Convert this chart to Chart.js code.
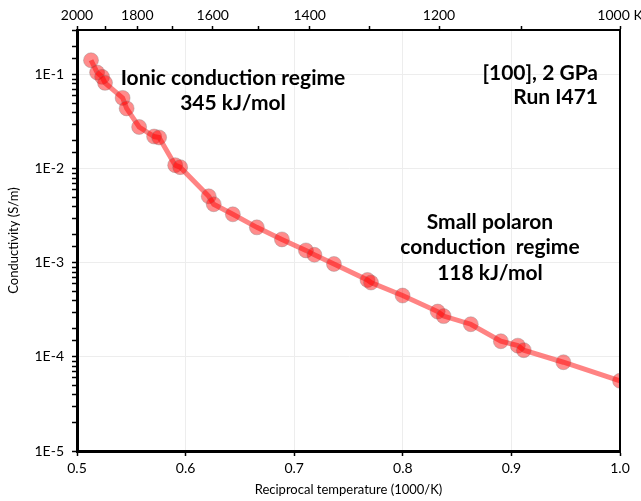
<!DOCTYPE html>
<html>
<head>
<meta charset="utf-8">
<script src="https://cdn.jsdelivr.net/npm/chart.js@4"></script>
<style>
html,body{margin:0;padding:0;background:#fff;}
#wrap{width:641px;height:501px;position:relative;}
</style>
</head>
<body>
<div id="wrap"><canvas id="c" width="641" height="501"></canvas></div>
<script>
// Reciprocal temperature (1000/K)
const invT = [0.5129,0.5185,0.5231,0.5258,0.5420,0.5457,0.5572,0.5710,0.5756,0.5904,0.5950,
  0.6213,0.6259,0.6435,0.6656,0.6887,0.7108,0.7186,0.7366,0.7675,0.7707,0.7998,
  0.8321,0.8376,0.8626,0.8903,0.9059,0.9114,0.9479,1.0000];
// Conductivity (S/m)
const sigma = [0.143,0.106,0.0952,0.0822,0.0569,0.0440,0.0279,0.0221,0.0216,0.01096,0.01044,
  0.00511,0.00421,0.00329,0.00239,0.00178,0.00136,0.00122,0.000975,0.000659,0.000619,0.000450,
  0.000304,0.000272,0.000223,0.000147,0.000132,0.000118,0.0000879,0.0000558];
// Top axis temperatures (K)
const topTemps = [2000,1900,1800,1700,1600,1500,1400,1300,1200,1100,1000];
const topLabelTemps = [2000,1800,1600,1400,1200,1000];
const xTicks = [0.5,0.6,0.7,0.8,0.9,1.0];

const FONT = 'Lato, "Open Sans", sans-serif';
const points = invT.map((x,i)=>({x:x, y:sigma[i]}));

const annotations = [
  {lines:['Ionic conduction regime','345 kJ/mol'], x:233, y:78, gap:25, align:'center'},
  {lines:['[100], 2 GPa','Run I471'], x:598, y:73, gap:24, align:'right'},
  {lines:['Small polaron','conduction  regime','118 kJ/mol'], x:490, y:222, gap:25.5, align:'center'}
];

const textPlugin = {
  id:'texts',
  afterDatasetsDraw(chart){
    const ctx = chart.ctx;
    ctx.save();
    ctx.fillStyle = '#000';
    ctx.font = 'bold 21px ' + FONT;
    ctx.textBaseline = 'middle';
    annotations.forEach(a=>{
      ctx.textAlign = a.align;
      a.lines.forEach((t,i)=>ctx.fillText(t, a.x, a.y + i*a.gap));
    });
    ctx.restore();
  }
};

const framePlugin = {
  id:'frame',
  afterDraw(chart){
    const {ctx, chartArea:ca} = chart;
    ctx.save();
    ctx.strokeStyle = '#000';
    ctx.lineWidth = 2;
    ctx.beginPath();
    ctx.moveTo(ca.right, ca.top);
    ctx.lineTo(ca.right, ca.bottom);
    ctx.stroke();
    ctx.restore();
  }
};

function noPad(s){ s.paddingLeft = 0; s.paddingRight = 0; }

new Chart(document.getElementById('c'), {
  type:'scatter',
  data:{datasets:[{
    data: points,
    showLine:true,
    borderColor:'rgba(255,30,30,0.55)',
    borderWidth:5,
    pointRadius:7.5,
    pointHoverRadius:7.5,
    pointBackgroundColor:'rgba(255,0,0,0.45)',
    pointBorderColor:'rgba(128,128,128,0.35)',
    pointBorderWidth:1,
    tension:0
  }]},
  options:{
    responsive:false,
    animation:false,
    events:[],
    layout:{padding:{left:6,right:21,top:0,bottom:3}},
    plugins:{legend:{display:false},tooltip:{enabled:false}},
    scales:{
      x:{
        type:'linear', position:'bottom', min:0.5, max:1.0,
        afterBuildTicks(axis){ axis.ticks = xTicks.map(v=>({value:v})); },
        afterFit(s){ s.height = 47; noPad(s); },
        ticks:{ callback:v=>Number(v).toFixed(1), font:{family:FONT,size:14}, color:'#000', padding:4, maxRotation:0, autoSkip:false },
        grid:{ color:'#ededed', lineWidth:1, tickColor:'#000', tickLength:5, tickWidth:1.5 },
        border:{ color:'#000', width:3 },
        title:{ display:true, text:'Reciprocal temperature (1000/K)', font:{family:FONT,size:13}, color:'#000', padding:{top:0,bottom:0} }
      },
      x2:{
        type:'linear', position:'top', min:0.5, max:1.0,
        afterBuildTicks(axis){ axis.ticks = topTemps.map(t=>({value:1000/t})); },
        afterFit(s){ s.height = 30; noPad(s); },
        ticks:{
          callback:v=>{ const T = Math.round(1000/v); if(!topLabelTemps.includes(T)) return ''; return T===1000 ? '1000 K' : String(T); },
          font:{family:FONT,size:14}, color:'#000', padding:2, maxRotation:0, autoSkip:false
        },
        grid:{ drawOnChartArea:false, tickColor:'#000', tickLength:4, tickWidth:1.5 },
        border:{ color:'#000', width:2 }
      },
      y:{
        type:'logarithmic', min:1e-5, max:0.3,
        afterFit(s){ s.width = 71; },
        ticks:{
          callback:v=>{ const e = Math.log10(v); return Math.abs(e-Math.round(e))<1e-6 ? '1E' + Math.round(e) : ''; },
          font:{family:FONT,size:14}, color:'#000', padding:8, autoSkip:false
        },
        grid:{
          color:ctx=>{ const v = ctx.tick && ctx.tick.value; if(!v) return 'transparent'; const e=Math.log10(v); return Math.abs(e-Math.round(e))<1e-6 ? '#ededed' : 'transparent'; },
          tickColor:'#000', tickLength:5, tickWidth:1.5
        },
        border:{ color:'#000', width:3 },
        title:{ display:true, text:'Conductivity (S/m)', font:{family:FONT,size:13}, color:'#000', padding:{top:0,bottom:4} }
      }
    }
  },
  plugins:[textPlugin, framePlugin]
});
</script>
</body>
</html>
